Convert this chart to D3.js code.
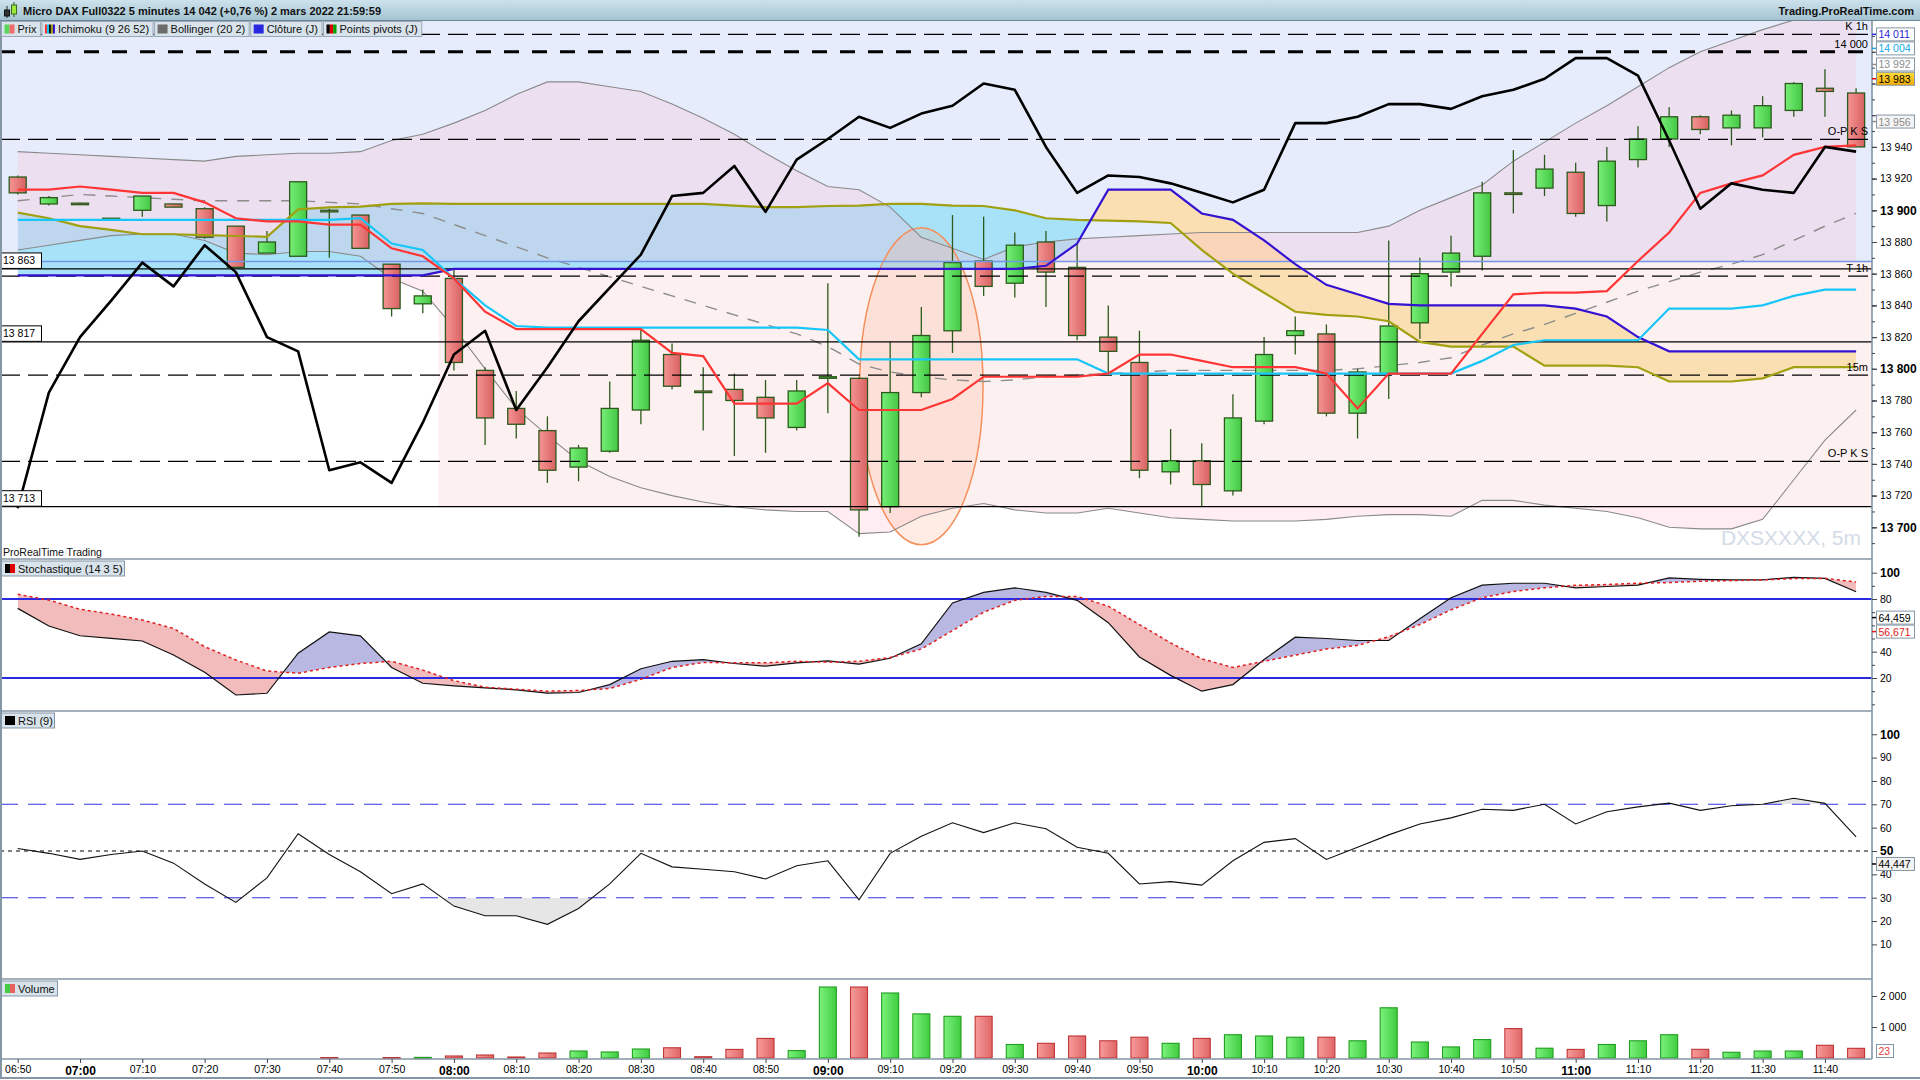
<!DOCTYPE html>
<html>
<head>
<meta charset="utf-8">
<title>Micro DAX Full0322 5 minutes</title>
<script src="https://cdn.jsdelivr.net/npm/d3@7/dist/d3.min.js"></script>
<style>
html,body{margin:0;padding:0;background:#fff;overflow:hidden;}
svg{display:block;font-family:"Liberation Sans",Arial,Helvetica,sans-serif;}
</style>
</head>
<body>
<svg id="chart" width="1920" height="1080"></svg>
<script>
// ---------------- DATA ----------------
const xLabels = ["06:50","07:00","07:10","07:20","07:30","07:40","07:50","08:00","08:10","08:20","08:30","08:40","08:50","09:00","09:10","09:20","09:30","09:40","09:50","10:00","10:10","10:20","10:30","10:40","10:50","11:00","11:10","11:20","11:30","11:40"];

const openP  = [13921,13904,13904.5,13895,13900,13904,13901,13890,13873,13871,13900,13897,13866,13841,13857,13799,13775,13761,13738,13748,13774,13809,13786,13787,13782,13763,13794,13794,13713,13785,13824,13868,13854,13880,13864,13820,13804,13735,13742,13723,13767,13821,13822,13772,13797,13829,13861,13871,13911,13914,13924,13903,13932,13945,13959,13952,13952,13963,13977,13974];
const highP  = [13922,13909,13905,13895,13909,13904,13902,13890,13887,13918,13901,13897,13866,13850,13863,13801,13786,13770,13752,13792,13826,13816,13801,13797,13793,13793,13854,13795,13817,13839,13897,13896,13886,13887,13879,13840,13824,13762,13753,13784,13820,13833,13828,13800,13881,13870,13884,13918,13938,13935,13930,13940,13953,13965,13960,13963,13972,13981,13989,13977];
const lowP   = [13910,13903,13904,13895,13896,13902,13882,13864,13873,13871,13870,13876,13833,13835,13799,13752,13756,13728,13729,13747,13765,13787,13761,13745,13747,13761,13772,13694,13709,13782,13810,13846,13845,13839,13818,13797,13731,13727,13713,13720,13765,13809,13770,13756,13781,13819,13852,13862,13898,13909,13896,13893,13927,13940,13948,13941,13946,13959,13959,13940];
const closeP = [13911,13908,13904,13895,13909,13902,13883,13864,13880,13918,13899,13876,13838,13846,13804,13769,13765,13736,13750,13775,13818,13789,13785,13780,13769,13786,13795,13711,13785,13821,13867,13852,13878,13861,13821,13811,13736,13742,13727,13769,13809,13824,13772,13798,13827,13860,13873,13911,13910,13926,13898,13931,13945,13959,13951,13960,13966,13980,13975,13940];
const volume = [0,0,0,0,0,0,0,0,0,0,15,0,15,20,65,97,32,161,226,194,290,330,41,277,632,238,2290,2290,2097,1423,1345,1345,436,474,710,555,671,474,632,751,710,671,671,555,1620,516,357,594,948,316,277,436,555,751,280,185,225,225,410,312];

// Ichimoku (9 26 52)
const tenkan = [13913,13913,13915,13913,13911,13911,13905,13895,13893,13893,13891,13891,13876,13871,13857,13836,13825,13825,13825,13825,13825,13810,13808,13778,13778,13778,13791,13774,13774,13774,13781,13795,13795,13795,13795,13797,13809,13809,13805,13801,13801,13801,13797,13775,13797,13797,13797,13822,13847,13848,13848,13849,13868,13886,13911,13917,13922,13935,13940,13941];
const kijun  = [13894,13894,13894,13894,13894,13894,13894,13894,13894,13894,13894,13895,13879,13875,13857,13840,13827,13826,13826,13826,13826,13826,13826,13826,13826,13826,13824.5,13806,13806,13806,13806,13806,13806,13806,13806,13797,13797,13797,13797,13797,13797,13797,13797,13797,13797,13797,13797,13805,13815,13818,13818,13818,13818,13838,13838,13838,13840,13846,13850,13850];
const spanA  = [13898.5,13895,13890,13887.6,13884.9,13884.9,13884.4,13883.8,13883.3,13900.6,13901.9,13902.3,13904,13904.4,13904,13904,13904,13904,13904,13904,13904,13904,13904,13903,13902,13902,13902.7,13903,13904,13904,13903,13902.7,13900,13895,13894,13893.5,13893,13892,13875,13860,13848,13836,13834,13833,13830,13817,13814,13814,13814,13802,13802,13802,13801,13792,13792,13792,13794,13801,13801,13801];
const spanB  = [13859,13859,13859,13859,13859,13859,13859,13859,13859,13859,13859,13859,13859,13859,13863,13863,13863,13863,13863,13863,13863,13863,13863,13863,13863,13863,13863,13863,13863,13863,13863,13863,13863,13865,13879,13913,13913,13913,13898,13894,13881,13866,13853,13847,13841,13840,13840,13840,13840,13840,13838,13833,13820,13811,13811,13811,13811,13811,13811,13811];
const lagging= [13712,13785,13820,13843,13867,13852,13878,13861,13820,13811,13736,13741,13728,13766,13809,13824,13774,13801,13830,13851,13872,13909,13911,13928,13899,13932,13945,13959,13952,13961,13966,13980,13976,13940,13911,13922,13921,13917,13911,13905,13913,13955,13955,13959,13967,13967,13964,13972,13976,13983,13996,13996,13985,13944,13901,13917,13913,13911,13940,13937];

// Bollinger (20 2)
const bbUp  = [13937,13936,13935,13934,13933,13932,13931,13934,13935,13936,13936,13937,13944,13948,13955,13963,13973,13981,13981,13978,13975,13967,13958,13948,13936,13925,13915,13913,13902,13883,13876,13869,13877,13880,13882,13883,13884,13885,13886,13886,13886,13886,13886,13886,13890,13900,13908,13916,13931,13943,13955,13966,13978,13990,14000,14007,14014,14020,14025,14028];
const bbMid = [13906,13908,13910,13909,13908,13907,13906,13906,13906,13906,13905,13904,13901,13898,13891,13884,13877,13870,13864,13858,13852,13846,13840,13834,13828,13822,13814,13803,13798,13795,13793,13792,13793,13795,13796,13797,13798,13799,13799,13799,13799,13799,13799,13800,13802,13804,13807,13815,13822,13828,13835,13842,13849,13855,13861,13866,13872,13881,13890,13898];
const bbLow = [13875,13878,13881,13884,13885,13885,13881,13873,13872,13874,13874,13871,13857,13849,13826,13800,13775,13758,13742,13732,13725,13720,13716,13713,13711,13710,13710,13696,13697,13707,13712,13715,13711,13709,13709,13712,13709,13706,13705,13704,13704,13704,13705,13707,13708,13708,13707,13717,13717,13714,13712,13710,13706,13700,13699,13699,13705,13730,13755,13774];

// Stochastique (14 3 5)
const stochK = [72.9,59.5,52.1,50.1,48.1,37.5,24.3,7.1,8.4,38.8,55,52,28,16,14,12.5,11,8.5,9,15,27,32.7,34,31,29,31.5,33,30.5,35,46,77,85,88.5,85,79,62,36,22,10,15,34,51,50,48.5,48.5,65,81,90.5,92,92,88.5,89.5,90.5,96,95,94.5,94.5,96.5,95.7,85.5];
const stochD = [83.6,79.2,72.2,68.6,64,57.7,43.8,33.7,25.3,23.6,28,31,32.7,26,18,13,11.5,10,10.5,12,19,28,31.8,31.5,31.5,32.7,32,32.7,35.5,42,56,70,79,82,82,74.6,60.6,46.7,34.6,28,32.7,37.4,42,44.8,51.3,60.6,71.8,81,85.7,88.5,90.4,91,92,92.5,93.5,94,94.5,95.5,95.7,93];

// RSI (9)
const rsi = [51.1,49,46.4,48.5,50,44.8,35.9,28,38.5,57.4,48.5,41.1,31.7,35.9,26.4,22.3,22.3,18.6,25.4,35.9,49,43.2,42.2,41.1,38,43.7,45.8,29.1,49,56.3,62.1,57.9,62.1,59.5,51.6,49,35.9,36.9,35.4,45.8,53.7,55.3,46.4,51.6,56.9,61.6,64.2,67.9,67.4,70,61.6,66.8,68.9,70.5,67.4,69.4,70,72.6,70.4,56.1];

// Levels
const closeJ = 13867.7;                 // Clôture (J)
const solidLevels = [13863, 13817, 13713];
const dashedLevels = [14011, 13944.8, 13858.5, 13796, 13741.6];
const dashedLabels = ["K 1h", "O-P K S", "T 1h", "15m", "O-P K S"];
const thickLevel = 14000, thickLabel = "14 000";
const priceTickVals = [13700,13720,13740,13760,13780,13800,13820,13840,13860,13880,13900,13920,13940,13960,13980,14000];
const priceTags = [
  {v:14011, color:"#2626d8", bg:"#ffffff"},
  {v:14004, color:"#14a8e8", bg:"#ffffff"},
  {v:13992, color:"#8c8c8c", bg:"#ffffff"},
  {v:13983, color:"#000000", bg:"url(#gold)"},
  {v:13956, color:"#8c8c8c", bg:"#f4f4f4"}
];
const stochTags = [{v:64.459, color:"#000000"}, {v:56.671, color:"#e01818"}];
const rsiTag = 44.447, volTag = 23;
const highlight = {i:29, p:13789, rBars:1.98, rPts:100};
const titleText = "Micro DAX Full0322 5 minutes 14 042 (+0,76 %) 2 mars 2022 21:59:59";
const legendItems = [
  {label:"Prix", colors:["#58d858","#ec6c6c"]},
  {label:"Ichimoku (9 26 52)", colors:["#ff3030","#18c8f8","#101010","#a0a010","#3010d0"]},
  {label:"Bollinger (20 2)", colors:["#6c6c6c"]},
  {label:"Clôture (J)", colors:["#2828e0"]},
  {label:"Points pivots (J)", colors:["#000000","#e00000","#00a000"]}
];

// ---------------- LAYOUT ----------------
const PR = 1872;
const P = {top:21, bot:559}, S = {top:559, bot:711}, R = {top:711, bot:979}, V = {top:979, bot:1059};
const idx = d3.range(openP.length);
const sessionStart = 13.5;

const x  = d3.scaleLinear().domain([-0.568, 59.51]).range([0, PR]);
const yP = d3.scaleLinear().domain([13700, 13940]).range([527.3, 146.9]);
const yS = d3.scaleLinear().domain([20, 100]).range([678, 572.7]);
const yR = d3.scaleLinear().domain([50, 100]).range([851, 734.25]);
const yV = d3.scaleLinear().domain([0, 2000]).range([1058, 996]);

const loc = d3.formatLocale({decimal:",", thousands:" ", grouping:[3], currency:["",""]});
const fmt = loc.format(",");
const fmt3 = loc.format(",.3f");

const svg = d3.select("#chart");
const defs = svg.append("defs");
function clipRect(id, x0, y0, w, h){ defs.append("clipPath").attr("id", id).append("rect").attr("x", x0).attr("y", y0).attr("width", w).attr("height", h); }
function clipPathD(id, d){ defs.append("clipPath").attr("id", id).append("path").attr("d", d); }
function grad(id, c1, c2, vertical){
  const g = defs.append("linearGradient").attr("id", id).attr("x1",0).attr("y1",0).attr("x2", vertical?0:1).attr("y2", vertical?1:0);
  g.append("stop").attr("offset",0).attr("stop-color",c1);
  g.append("stop").attr("offset",1).attr("stop-color",c2);
}
grad("gUp", "#76ee76", "#44c844", false);
grad("gDn", "#f69494", "#d86262", false);
grad("vUp", "#7cf27c", "#40cc40", false);
grad("vDn", "#f89c9c", "#e06666", false);
grad("gold", "#ffdc40", "#f2aa00", true);
grad("tbar", "#cde2ec", "#a2c2d0", true);
clipRect("cP", 0, P.top, PR, P.bot - P.top);
clipRect("cS", 0, S.top, PR, S.bot - S.top);
clipRect("cR", 0, R.top, PR, R.bot - R.top);
clipRect("cV", 0, V.top, PR, V.bot - V.top);
// band fill only outside the session shading
const bc = defs.append("clipPath").attr("id","bandClip");
bc.append("rect").attr("x",0).attr("y",P.top).attr("width",PR).attr("height",yP(closeJ)-P.top);
bc.append("rect").attr("x",0).attr("y",P.top).attr("width",x(sessionStart)).attr("height",P.bot-P.top);
bc.append("rect").attr("x",0).attr("y",yP(13713)).attr("width",PR).attr("height",P.bot-yP(13713));

svg.append("rect").attr("width",1920).attr("height",1080).attr("fill","#ffffff");

// ---------------- PRICE PANEL ----------------
const gP = svg.append("g").attr("clip-path","url(#cP)");
gP.append("rect").attr("x",0).attr("y",P.top).attr("width",PR).attr("height",P.bot-P.top).attr("fill","#ffffff");
gP.append("rect").attr("x",0).attr("y",P.top).attr("width",PR).attr("height",yP(closeJ)-P.top).attr("fill","#e6ecfb");
gP.append("rect").attr("x",x(sessionStart)).attr("y",yP(closeJ)).attr("width",PR-x(sessionStart)).attr("height",yP(13713)-yP(closeJ)).attr("fill","#fdf0f0");

// Ichimoku cloud
const cloudArea = d3.area().x(i=>x(i)).y0(i=>yP(spanB[i])).y1(i=>yP(spanA[i]));
clipPathD("aboveB", d3.area().x(i=>x(i)).y0(P.top-20).y1(i=>yP(spanB[i]))(idx));
clipPathD("belowB", d3.area().x(i=>x(i)).y0(i=>yP(spanB[i])).y1(P.bot+20)(idx));
gP.append("g").attr("clip-path","url(#aboveB)").append("path").attr("d", cloudArea(idx)).attr("fill","#a8e2f8");
gP.append("g").attr("clip-path","url(#belowB)").append("path").attr("d", cloudArea(idx)).attr("fill","#fadfb2");

// Bollinger fill
gP.append("g").attr("clip-path","url(#bandClip)").append("path")
  .attr("d", d3.area().x(i=>x(i)).y0(i=>yP(bbLow[i])).y1(i=>yP(bbUp[i]))(idx)).attr("fill","rgba(255,185,208,0.25)");

// highlight ellipse
gP.append("ellipse")
  .attr("cx", x(highlight.i)).attr("cy", yP(highlight.p))
  .attr("rx", x(highlight.i + highlight.rBars) - x(highlight.i))
  .attr("ry", yP(highlight.p - highlight.rPts) - yP(highlight.p))
  .attr("fill","rgba(255,170,130,0.22)").attr("stroke","#f4905c").attr("stroke-width",1.5);

// Bollinger lines
const line = (arr, ys) => d3.line().x(i=>x(i)).y(i=>ys(arr[i]))(idx);
gP.append("path").attr("d", line(bbUp, yP)).attr("fill","none").attr("stroke","#8a8a8a").attr("stroke-width",1.1);
gP.append("path").attr("d", line(bbLow, yP)).attr("fill","none").attr("stroke","#8a8a8a").attr("stroke-width",1.1);
gP.append("path").attr("d", line(bbMid, yP)).attr("fill","none").attr("stroke","#8c8c8c").attr("stroke-width",1.4).attr("stroke-dasharray","12,10");

// Candles
const gC = gP.append("g");
idx.forEach(i => {
  const up = closeP[i] >= openP[i];
  const cx = x(i), bw = 17;
  gC.append("line").attr("x1",cx).attr("x2",cx).attr("y1",yP(highP[i])).attr("y2",yP(lowP[i])).attr("stroke","#2c5a1c").attr("stroke-width",1.3);
  const yt = yP(Math.max(openP[i], closeP[i])), yb = yP(Math.min(openP[i], closeP[i]));
  const h = Math.max(yb - yt, 1.5);
  gC.append("rect").attr("x",cx-bw/2).attr("y",yt).attr("width",bw).attr("height",h)
    .attr("fill", up ? "url(#gUp)" : "url(#gDn)").attr("stroke","#2c5a1c").attr("stroke-width",1.3);
});

// Horizontal levels
gP.append("line").attr("x1",0).attr("x2",PR).attr("y1",yP(closeJ)).attr("y2",yP(closeJ)).attr("stroke","#7596e6").attr("stroke-width",1.3);
solidLevels.forEach(v => {
  gP.append("line").attr("x1",0).attr("x2",PR).attr("y1",yP(v)).attr("y2",yP(v)).attr("stroke","#000").attr("stroke-width",1.3);
});
dashedLevels.forEach((v,k) => {
  gP.append("line").attr("x1",0).attr("x2",PR).attr("y1",yP(v)).attr("y2",yP(v)).attr("stroke","#000").attr("stroke-width",1.2).attr("stroke-dasharray","20,8");
});
gP.append("line").attr("x1",0).attr("x2",PR).attr("y1",yP(thickLevel)).attr("y2",yP(thickLevel)).attr("stroke","#000").attr("stroke-width",3).attr("stroke-dasharray","15,13");

// Ichimoku lines
gP.append("path").attr("d", line(spanA, yP)).attr("fill","none").attr("stroke","#a0a010").attr("stroke-width",2.2);
gP.append("path").attr("d", line(spanB, yP)).attr("fill","none").attr("stroke","#3412d2").attr("stroke-width",2.2);
gP.append("path").attr("d", line(kijun, yP)).attr("fill","none").attr("stroke","#16c6f8").attr("stroke-width",2.2);
gP.append("path").attr("d", line(tenkan, yP)).attr("fill","none").attr("stroke","#ff3434").attr("stroke-width",2.2);
gP.append("path").attr("d", line(lagging, yP)).attr("fill","none").attr("stroke","#000").attr("stroke-width",2.6).attr("stroke-linejoin","round");

// level texts
dashedLevels.forEach((v,k) => {
  gP.append("text").attr("x",1868).attr("y",yP(v)-4).attr("text-anchor","end").attr("font-size",11).attr("fill","#000").text(dashedLabels[k]);
});
gP.append("text").attr("x",1868).attr("y",yP(thickLevel)-4).attr("text-anchor","end").attr("font-size",11).attr("fill","#000").text(thickLabel);
solidLevels.forEach(v => {
  gP.append("rect").attr("x",1.5).attr("y",yP(v)-16).attr("width",40).attr("height",15.5).attr("fill","#fff").attr("stroke","#000").attr("stroke-width",1);
  gP.append("text").attr("x",3).attr("y",yP(v)-4.5).attr("font-size",10.5).attr("fill","#000").text(fmt(v));
});
gP.append("text").attr("x",1861).attr("y",545).attr("text-anchor","end").attr("font-size",21).attr("fill","#d4dbe8").text("DXSXXXX, 5m");
gP.append("text").attr("x",3).attr("y",556).attr("font-size",10.5).attr("fill","#111").text("ProRealTime Trading");

// ---------------- STOCHASTIC ----------------
const gS = svg.append("g").attr("clip-path","url(#cS)");
const kdArea = d3.area().x(i=>x(i)).y0(i=>yS(stochD[i])).y1(i=>yS(stochK[i]));
clipPathD("aboveD", d3.area().x(i=>x(i)).y0(S.top-20).y1(i=>yS(stochD[i]))(idx));
clipPathD("belowD", d3.area().x(i=>x(i)).y0(i=>yS(stochD[i])).y1(S.bot+20)(idx));
gS.append("g").attr("clip-path","url(#aboveD)").append("path").attr("d", kdArea(idx)).attr("fill","#b8b8e2");
gS.append("g").attr("clip-path","url(#belowD)").append("path").attr("d", kdArea(idx)).attr("fill","#f2bcbc");
[80,20].forEach(v => gS.append("line").attr("x1",0).attr("x2",PR).attr("y1",yS(v)).attr("y2",yS(v)).attr("stroke","#2a2ae0").attr("stroke-width",2));
gS.append("path").attr("d", line(stochK, yS)).attr("fill","none").attr("stroke","#111").attr("stroke-width",1.2);
gS.append("path").attr("d", line(stochD, yS)).attr("fill","none").attr("stroke","#e02020").attr("stroke-width",1.5).attr("stroke-dasharray","3,3");

// ---------------- RSI ----------------
const gR = svg.append("g").attr("clip-path","url(#cR)");
clipRect("r30", 0, yR(30), PR, R.bot - yR(30));
clipRect("r70", 0, R.top, PR, yR(70) - R.top);
gR.append("g").attr("clip-path","url(#r30)").append("path").attr("d", d3.area().x(i=>x(i)).y0(yR(30)).y1(i=>yR(rsi[i]))(idx)).attr("fill","#e6e6e6");
gR.append("g").attr("clip-path","url(#r70)").append("path").attr("d", d3.area().x(i=>x(i)).y0(yR(70)).y1(i=>yR(rsi[i]))(idx)).attr("fill","#e6e6e6");
[70,30].forEach(v => gR.append("line").attr("x1",0).attr("x2",PR).attr("y1",yR(v)).attr("y2",yR(v)).attr("stroke","#3434e6").attr("stroke-width",1.1).attr("stroke-dasharray","18,10"));
gR.append("line").attr("x1",0).attr("x2",PR).attr("y1",yR(50)).attr("y2",yR(50)).attr("stroke","#000").attr("stroke-width",1.1).attr("stroke-dasharray","4,4");
gR.append("path").attr("d", line(rsi, yR)).attr("fill","none").attr("stroke","#111").attr("stroke-width",1.1);

// ---------------- VOLUME ----------------
const gV = svg.append("g").attr("clip-path","url(#cV)");
idx.forEach(i => {
  if (!volume[i]) return;
  const up = closeP[i] >= openP[i];
  gV.append("rect").attr("x", x(i)-8.5).attr("y", yV(volume[i])).attr("width",17).attr("height", Math.max(yV(0)-yV(volume[i]),1))
    .attr("fill", up ? "url(#vUp)" : "url(#vDn)").attr("stroke", up ? "#1f9e1f" : "#bf3434").attr("stroke-width",1.1);
});

// ---------------- FRAMES / SEPARATORS ----------------
const frame = "#8596a6";
[S.top, R.top, V.top].forEach(y => svg.append("line").attr("x1",0).attr("x2",PR).attr("y1",y).attr("y2",y).attr("stroke",frame).attr("stroke-width",1.6));
svg.append("line").attr("x1",PR).attr("x2",PR).attr("y1",P.top).attr("y2",V.bot).attr("stroke",frame).attr("stroke-width",1.6);
svg.append("line").attr("x1",0).attr("x2",PR).attr("y1",V.bot).attr("y2",V.bot).attr("stroke",frame).attr("stroke-width",1.6);
svg.append("line").attr("x1",1).attr("x2",1).attr("y1",0).attr("y2",1078).attr("stroke",frame).attr("stroke-width",2);
svg.append("line").attr("x1",0).attr("x2",1920).attr("y1",1078).attr("y2",1078).attr("stroke",frame).attr("stroke-width",2);

// ---------------- AXES ----------------
function styleAxis(g){ g.select(".domain").remove(); g.selectAll(".tick line").attr("stroke","#445"); g.selectAll("text").attr("fill","#000"); }
// price axis (labels hidden behind value tags are left out)
const minorP = d3.range(13690, 14011, 10);
svg.append("g").attr("transform",`translate(${PR},0)`).call(d3.axisRight(yP).tickValues(minorP).tickSize(3).tickFormat("")).call(styleAxis);
const visibleTicks = priceTickVals.filter(v => !priceTags.some(t => Math.abs(yP(t.v) - yP(v)) < 10));
svg.append("g").attr("transform",`translate(${PR},0)`).call(d3.axisRight(yP).tickValues(priceTickVals).tickSize(5).tickFormat("")).call(styleAxis);
const axP = svg.append("g").attr("transform",`translate(${PR},0)`).call(d3.axisRight(yP).tickValues(visibleTicks).tickSize(5).tickPadding(3).tickFormat(fmt)).call(styleAxis);
axP.selectAll("text").attr("font-size", d => d % 100 === 0 ? 12 : 10.5).attr("font-weight", d => d % 100 === 0 ? "bold" : "normal").attr("font-family","Liberation Sans, Arial, sans-serif");
// stoch axis
svg.append("g").attr("transform",`translate(${PR},0)`).call(d3.axisRight(yS).tickValues([0,10,30,50,60,70,90]).tickSize(3).tickFormat("")).call(styleAxis);
const axS = svg.append("g").attr("transform",`translate(${PR},0)`).call(d3.axisRight(yS).tickValues([20,40,80,100]).tickSize(5).tickPadding(3)).call(styleAxis);
axS.selectAll("text").attr("font-size", d => d===100?12:10.5).attr("font-weight", d => d===100?"bold":"normal").attr("font-family","Liberation Sans, Arial, sans-serif");
// rsi axis
const axR = svg.append("g").attr("transform",`translate(${PR},0)`).call(d3.axisRight(yR).tickValues([10,20,30,40,50,60,70,80,90,100]).tickSize(5).tickPadding(3)).call(styleAxis);
axR.selectAll("text").attr("font-size", d => (d===100||d===50)?12:10.5).attr("font-weight", d => (d===100||d===50)?"bold":"normal").attr("font-family","Liberation Sans, Arial, sans-serif");
// volume axis
const axV = svg.append("g").attr("transform",`translate(${PR},0)`).call(d3.axisRight(yV).tickValues([1000,2000]).tickSize(5).tickPadding(3).tickFormat(fmt)).call(styleAxis);
axV.selectAll("text").attr("font-size",10.5).attr("font-family","Liberation Sans, Arial, sans-serif");
// x axis
const axX = svg.append("g").attr("transform",`translate(0,${V.bot})`).call(d3.axisBottom(x).tickValues(d3.range(0, 60, 2)).tickSize(4).tickPadding(3).tickFormat(i => xLabels[i/2])).call(styleAxis);
axX.selectAll("text").attr("font-size", i => xLabels[i/2].endsWith(":00") ? 12 : 10.5).attr("font-weight", i => xLabels[i/2].endsWith(":00") ? "bold" : "normal").attr("font-family","Liberation Sans, Arial, sans-serif");

// ---------------- VALUE TAGS ----------------
function tag(yc, text, color, bg, tickColor){
  const h = 13;
  if (tickColor) svg.append("line").attr("x1",PR).attr("x2",PR+5).attr("y1",yc).attr("y2",yc).attr("stroke",tickColor).attr("stroke-width",1.5);
  svg.append("rect").attr("x",1876.5).attr("y",yc-h/2).attr("width",38).attr("height",h).attr("fill",bg).attr("stroke","#8596a6").attr("stroke-width",1);
  svg.append("text").attr("x",1878.5).attr("y",yc+4).attr("font-size",10.5).attr("fill",color).text(text);
}
let lastBottom = -100;
priceTags.forEach(t => {
  let yc = yP(t.v);
  if (yc - 6.5 < lastBottom + 1) yc = lastBottom + 1 + 6.5;
  tag(yc, fmt(t.v), t.color, t.bg, t.color === "#000000" ? "#e00000" : t.color);
  lastBottom = yc + 6.5;
});
let ys1 = yS(stochTags[0].v), ys2 = yS(stochTags[1].v);
if (ys2 - ys1 < 14) { const m = (ys1+ys2)/2; ys1 = m - 7; ys2 = m + 7; }
tag(ys1, fmt3(stochTags[0].v), stochTags[0].color, "#ffffff", "#000");
tag(ys2, fmt3(stochTags[1].v), stochTags[1].color, "#ffffff", "#e01818");
tag(yR(rsiTag), fmt3(rsiTag), "#000", "#f2f2f2", "#000");
svg.append("rect").attr("x",1876.5).attr("y",Math.min(yV(volTag), V.bot-8)-6.5).attr("width",17).attr("height",13).attr("fill","#fff").attr("stroke","#8596a6");
svg.append("text").attr("x",1878.5).attr("y",Math.min(yV(volTag), V.bot-8)+4).attr("font-size",10.5).attr("fill","#e04040").text(fmt(volTag));

// ---------------- TITLE BAR + LEGEND ----------------
svg.append("rect").attr("x",0).attr("y",0).attr("width",1920).attr("height",21).attr("fill","url(#tbar)");
svg.append("line").attr("x1",0).attr("x2",1920).attr("y1",20.5).attr("y2",20.5).attr("stroke","#6f8796").attr("stroke-width",1);
svg.append("line").attr("x1",7).attr("x2",7).attr("y1",6).attr("y2",18).attr("stroke","#222");
svg.append("rect").attr("x",4.5).attr("y",10).attr("width",5).attr("height",6).attr("fill","#333").attr("stroke","#111");
svg.append("line").attr("x1",14).attr("x2",14).attr("y1",2).attr("y2",17).attr("stroke","#2c5a1c");
svg.append("rect").attr("x",11.5).attr("y",5).attr("width",5).attr("height",9).attr("fill","#9ee83e").attr("stroke","#3a6a1a");
svg.append("text").attr("x",23).attr("y",15).attr("font-size",11).attr("font-weight","bold").attr("fill","#111").text(titleText);
svg.append("text").attr("x",1914).attr("y",15).attr("text-anchor","end").attr("font-size",11).attr("font-weight","bold").attr("fill","#111").text("Trading.ProRealTime.com");

let lx = 1.5;
legendItems.forEach(it => {
  const g = svg.append("g");
  const rect = g.append("rect").attr("x",lx).attr("y",21.5).attr("width",10).attr("height",15).attr("fill","#d8e3eb").attr("stroke","#98a8b6").attr("stroke-width",1);
  const n = it.colors.length, iw = 10;
  it.colors.forEach((c,k) => g.append("rect").attr("x",lx+3+k*iw/n).attr("y",24.5).attr("width",iw/n).attr("height",9).attr("fill",c));
  const t = g.append("text").attr("x",lx+16).attr("y",33).attr("font-size",11).attr("fill","#111").text(it.label);
  const w = t.node().getComputedTextLength() + 20;
  rect.attr("width", w);
  lx += w + 1.5;
});

function panelLabel(y, label, colors, w){
  svg.append("rect").attr("x",1.5).attr("y",y).attr("width",w).attr("height",15).attr("fill","#d8e3eb").attr("stroke","#8596a6").attr("stroke-width",1);
  colors.forEach((c,k) => svg.append("rect").attr("x",5+k*10/colors.length).attr("y",y+3).attr("width",10/colors.length).attr("height",9).attr("fill",c));
  svg.append("text").attr("x",18).attr("y",y+11.5).attr("font-size",11).attr("fill","#111").text(label);
}
panelLabel(S.top+2, "Stochastique (14 3 5)", ["#000","#e00000"], 123);
panelLabel(R.top+2, "RSI (9)", ["#000"], 53);
panelLabel(V.top+2, "Volume", ["#44cc44","#e86060"], 56);
</script>
</body>
</html>
